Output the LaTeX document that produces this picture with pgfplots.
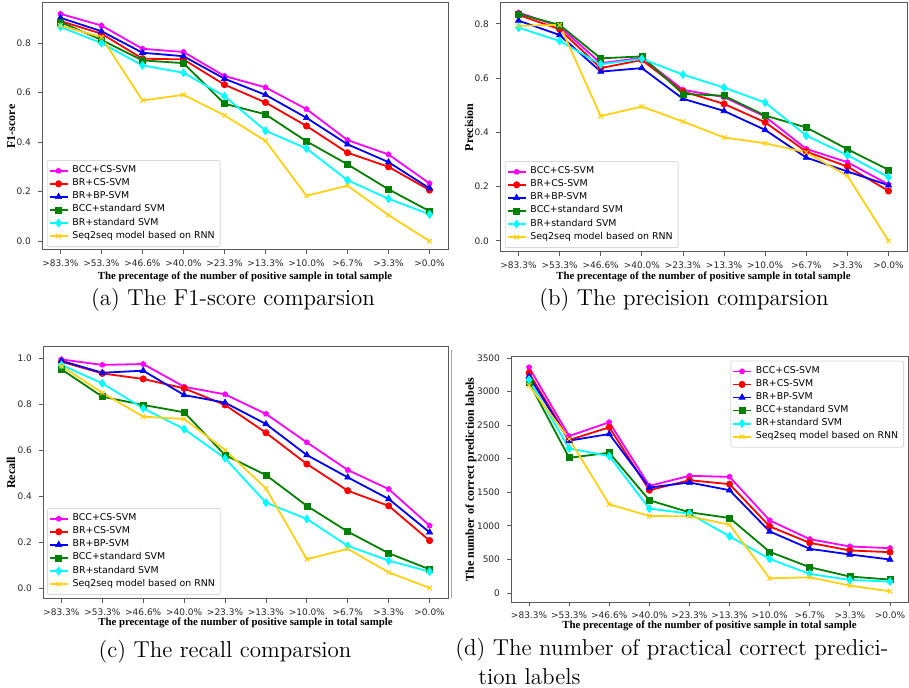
\documentclass[border=0pt]{standalone}
\usepackage{fontspec}
\usepackage{pgfplots}
\pgfplotsset{compat=1.18}
\usetikzlibrary{plotmarks}
\newfontfamily\dejavu{DejaVu Sans}
\newfontfamily\timesrm{Liberation Serif}

\definecolor{cMag}{RGB}{255,0,255}
\definecolor{cRed}{RGB}{255,0,0}
\definecolor{cBlue}{RGB}{0,0,255}
\definecolor{cGreen}{RGB}{0,128,0}
\definecolor{cCyan}{RGB}{0,255,255}
\definecolor{cGold}{RGB}{255,208,20}

\pgfplotsset{
  panel/.style={
    scale only axis, anchor=north west,
    xmin=-0.45, xmax=9.45,
    xtick={0,...,9},
    xticklabels={>83.3\%,>53.3\%,>46.6\%,>40.0\%,>23.3\%,>13.3\%,>10.0\%,>6.7\%,>3.3\%,>0.0\%},
    tick align=outside, xtick pos=bottom, ytick pos=left,
    major tick length=2pt,
    axis line style={black!65, line width=0.5pt},
    every tick/.style={black!65, line width=0.4pt},
    tick label style={font=\dejavu\fontsize{4.5}{5}\selectfont, text=black!85},
    xticklabel style={yshift=0.6pt},
    /pgf/number format/assume math mode=true,
    xlabel={The precentage of the number of positive sample in total sample},
    label style={font=\timesrm\bfseries\fontsize{5.4}{6}\selectfont},
    ylabel style={font=\timesrm\bfseries\fontsize{6}{7}\selectfont},
    legend cell align=left,
    legend style={font=\dejavu\fontsize{4.7}{5.2}\selectfont, draw=black!15,
      rounded corners=1pt, inner sep=0.7pt, row sep=-2.5pt},
    legend image code/.code={\draw[mark repeat=2,mark phase=2]
      plot coordinates {(0pt,0pt)(4.5pt,0pt)(9pt,0pt)};},
    every axis plot/.append style={line width=0.9pt},
  },
  frac/.style={yticklabel style={/pgf/number format/fixed,
    /pgf/number format/precision=1, /pgf/number format/fixed zerofill}},
  s1/.style={cMag, mark=pentagon*, mark size=1.4pt, mark options={line width=0.3pt}},
  s2/.style={cRed, mark=*, mark size=1.6pt, mark options={line width=0.3pt}},
  s3/.style={cBlue, mark=triangle*, mark size=1.8pt, mark options={line width=0.3pt}},
  s4/.style={cGreen, mark=square*, mark size=1.5pt, mark options={line width=0.3pt}},
  s5/.style={cCyan, mark=diamond*, mark size=2pt, mark options={line width=0.3pt}},
  s6/.style={cGold, mark=x, mark size=1.6pt, mark options={line width=0.5pt}},
}

\begin{document}
\begin{tikzpicture}
\path[use as bounding box] (0pt,0pt) rectangle (454.5pt,-344pt);

% (a) F1-score
\begin{axis}[panel, frac, at={(21pt,-1.5pt)}, width=203pt, height=123.5pt,
  ymin=-0.036, ymax=0.962, ytick={0,0.2,0.4,0.6,0.8},
  ylabel={F1-score},
  xlabel style={at={(axis description cs:0.5,-0.108)}, anchor=center},
  ylabel style={at={(axis description cs:-0.076,0.5)}, anchor=center},
  legend style={at={(0.012,0.012)}, anchor=south west}]
\addplot[s1] coordinates {(0,0.918)(1,0.871)(2,0.777)(3,0.764)(4,0.667)(5,0.621)(6,0.533)(7,0.408)(8,0.350)(9,0.233)};
\addplot[s2] coordinates {(0,0.889)(1,0.838)(2,0.737)(3,0.734)(4,0.632)(5,0.560)(6,0.465)(7,0.357)(8,0.300)(9,0.206)};
\addplot[s3] coordinates {(0,0.902)(1,0.848)(2,0.761)(3,0.747)(4,0.656)(5,0.591)(6,0.498)(7,0.391)(8,0.319)(9,0.213)};
\addplot[s4] coordinates {(0,0.885)(1,0.813)(2,0.730)(3,0.719)(4,0.555)(5,0.512)(6,0.403)(7,0.310)(8,0.209)(9,0.121)};
\addplot[s5] coordinates {(0,0.865)(1,0.800)(2,0.710)(3,0.680)(4,0.586)(5,0.446)(6,0.374)(7,0.246)(8,0.171)(9,0.108)};
\addplot[s6] coordinates {(0,0.871)(1,0.824)(2,0.568)(3,0.591)(4,0.508)(5,0.405)(6,0.183)(7,0.224)(8,0.105)(9,0.0)};
\legend{BCC+CS-SVM,BR+CS-SVM,BR+BP-SVM,BCC+standard SVM,BR+standard SVM,Seq2seq model based on RNN}
\end{axis}

% (b) Precision
\begin{axis}[panel, frac, at={(250pt,-1.5pt)}, width=203.5pt, height=124.5pt,
  ymin=-0.041, ymax=0.877, ytick={0,0.2,0.4,0.6,0.8},
  ylabel={Precision},
  xlabel style={at={(axis description cs:0.5,-0.1)}, anchor=center},
  ylabel style={at={(axis description cs:-0.076,0.5)}, anchor=center},
  legend style={at={(0.012,0.016)}, anchor=south west}]
\addplot[s1] coordinates {(0,0.842)(1,0.790)(2,0.655)(3,0.675)(4,0.557)(5,0.530)(6,0.458)(7,0.339)(8,0.290)(9,0.208)};
\addplot[s2] coordinates {(0,0.833)(1,0.780)(2,0.637)(3,0.667)(4,0.551)(5,0.505)(6,0.437)(7,0.329)(8,0.274)(9,0.184)};
\addplot[s3] coordinates {(0,0.812)(1,0.759)(2,0.624)(3,0.637)(4,0.524)(5,0.479)(6,0.409)(7,0.307)(8,0.256)(9,0.205)};
\addplot[s4] coordinates {(0,0.837)(1,0.796)(2,0.673)(3,0.680)(4,0.542)(5,0.535)(6,0.462)(7,0.418)(8,0.338)(9,0.262)};
\addplot[s5] coordinates {(0,0.786)(1,0.737)(2,0.651)(3,0.671)(4,0.613)(5,0.565)(6,0.510)(7,0.388)(8,0.316)(9,0.235)};
\addplot[s6] coordinates {(0,0.793)(1,0.796)(2,0.460)(3,0.495)(4,0.440)(5,0.381)(6,0.360)(7,0.326)(8,0.240)(9,0.0)};
\legend{BCC+CS-SVM,BR+CS-SVM,BR+BP-SVM,BCC+standard SVM,BR+standard SVM,Seq2seq model based on RNN}
\end{axis}

% (c) Recall
\begin{axis}[panel, frac, at={(21.5pt,-173.5pt)}, width=202.5pt, height=126pt,
  ymin=-0.048, ymax=1.048, ytick={0,0.2,0.4,0.6,0.8,1.0},
  ylabel={Recall},
  xlabel style={at={(axis description cs:0.5,-0.096)}, anchor=center},
  ylabel style={at={(axis description cs:-0.079,0.5)}, anchor=center},
  legend style={at={(0.01,0.016)}, anchor=south west}]
\addplot[s1] coordinates {(0,0.994)(1,0.970)(2,0.974)(3,0.875)(4,0.842)(5,0.757)(6,0.633)(7,0.513)(8,0.430)(9,0.271)};
\addplot[s2] coordinates {(0,0.984)(1,0.933)(2,0.909)(3,0.868)(4,0.796)(5,0.675)(6,0.539)(7,0.423)(8,0.357)(9,0.206)};
\addplot[s3] coordinates {(0,0.988)(1,0.936)(2,0.945)(3,0.839)(4,0.806)(5,0.713)(6,0.578)(7,0.481)(8,0.387)(9,0.242)};
\addplot[s4] coordinates {(0,0.951)(1,0.832)(2,0.796)(3,0.764)(4,0.578)(5,0.491)(6,0.357)(7,0.245)(8,0.151)(9,0.081)};
\addplot[s5] coordinates {(0,0.970)(1,0.890)(2,0.781)(3,0.691)(4,0.564)(5,0.371)(6,0.300)(7,0.183)(8,0.119)(9,0.071)};
\addplot[s6] coordinates {(0,0.965)(1,0.849)(2,0.745)(3,0.735)(4,0.600)(5,0.433)(6,0.125)(7,0.170)(8,0.068)(9,0.0)};
\legend{BCC+CS-SVM,BR+CS-SVM,BR+BP-SVM,BCC+standard SVM,BR+standard SVM,Seq2seq model based on RNN}
\end{axis}

% (d) Number of correct prediction labels
\begin{axis}[panel, at={(255.5pt,-178.5pt)}, width=198.5pt, height=122.5pt,
  ymin=-134, ymax=3515, ytick={0,500,...,3500}, scaled y ticks=false,
  yticklabel style={/pgf/number format/1000 sep={}},
  ylabel={The number of correct prediction labels},
  xlabel style={at={(axis description cs:0.5,-0.096)}, anchor=center},
  ylabel style={at={(axis description cs:-0.101,0.5)}, anchor=center},
  legend style={at={(0.99,0.985)}, anchor=north east}]
\addplot[s1] coordinates {(0,3360)(1,2338)(2,2543)(3,1596)(4,1745)(5,1730)(6,1082)(7,802)(8,693)(9,668)};
\addplot[s2] coordinates {(0,3276)(1,2279)(2,2468)(3,1531)(4,1680)(5,1621)(6,992)(7,747)(8,634)(9,608)};
\addplot[s3] coordinates {(0,3226)(1,2269)(2,2368)(3,1571)(4,1646)(5,1531)(6,917)(7,658)(8,574)(9,499)};
\addplot[s4] coordinates {(0,3136)(1,2014)(2,2089)(3,1381)(4,1202)(5,1117)(6,613)(7,384)(8,245)(9,200)};
\addplot[s5] coordinates {(0,3176)(1,2154)(2,2039)(3,1257)(4,1182)(5,843)(6,508)(7,284)(8,195)(9,170)};
\addplot[s6] coordinates {(0,3091)(1,2295)(2,1321)(3,1147)(4,1142)(5,1017)(6,219)(7,234)(8,110)(9,25)};
\legend{BCC+CS-SVM,BR+CS-SVM,BR+BP-SVM,BCC+standard SVM,BR+standard SVM,Seq2seq model based on RNN}
\end{axis}

\draw[black!35, line width=0.4pt] (225.5pt,-175pt) -- (225.5pt,-299pt);

\node[font=\fontsize{11.5}{14}\selectfont, anchor=center] at (116.5pt,-150pt) {(a)\ The F1-score comparsion};
\node[font=\fontsize{11.5}{14}\selectfont, anchor=center] at (342pt,-150pt) {(b)\ The precision comparsion};
\node[font=\fontsize{11.5}{14}\selectfont, anchor=center] at (112.5pt,-326pt) {(c)\ The recall comparsion};
\node[font=\fontsize{11.5}{14}\selectfont, anchor=west, inner sep=0pt] at (227.5pt,-325pt) {(d)\ The number of practical correct predici-};
\node[font=\fontsize{11.5}{14}\selectfont, anchor=west, inner sep=0pt] at (239pt,-338.5pt) {tion labels};
\end{tikzpicture}
\end{document}
